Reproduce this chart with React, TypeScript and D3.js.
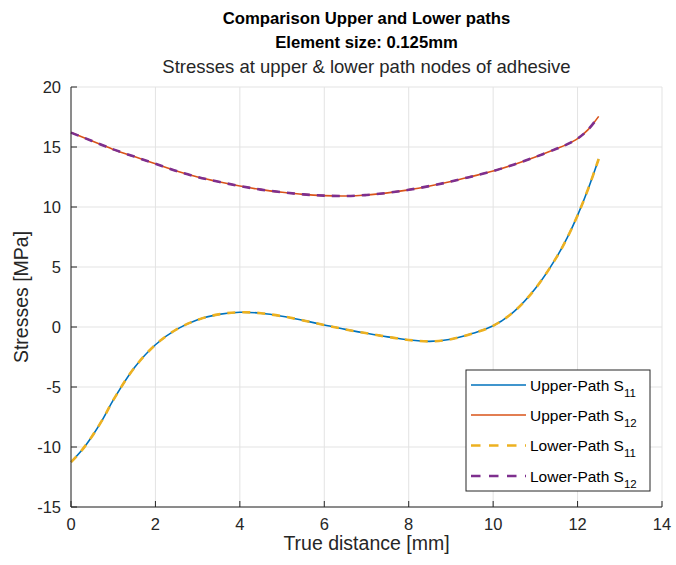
import React from "react";
import * as d3 from "d3";

const distance = [0, 0.25, 0.5, 0.75, 1, 1.5, 2, 2.5, 3, 3.5, 4, 4.5, 5, 5.5, 6, 6.5, 7, 7.5, 8, 8.5, 9, 9.5, 10, 10.5, 11, 11.5, 11.75, 12, 12.25, 12.5];
const upperS11 = [-11.26, -10.3, -9.1, -7.7, -6.1, -3.4, -1.48, -0.2, 0.6, 1.05, 1.23, 1.15, 0.9, 0.55, 0.17, -0.2, -0.52, -0.82, -1.08, -1.2, -1.02, -0.55, 0.1, 1.3, 3.2, 5.8, 7.4, 9.3, 11.5, 14.0];
const upperS12 = [16.2, 15.85, 15.5, 15.15, 14.8, 14.2, 13.6, 13.0, 12.5, 12.1, 11.75, 11.45, 11.23, 11.05, 10.95, 10.92, 11.0, 11.18, 11.43, 11.75, 12.12, 12.55, 13.0, 13.55, 14.17, 14.85, 15.22, 15.7, 16.45, 17.55];
const lowerS11 = [-11.26, -10.3, -9.1, -7.7, -6.1, -3.4, -1.48, -0.2, 0.6, 1.05, 1.23, 1.15, 0.9, 0.55, 0.17, -0.2, -0.52, -0.82, -1.08, -1.2, -1.02, -0.55, 0.1, 1.3, 3.2, 5.8, 7.4, 9.3, 11.5, 14.0];
const lowerS12 = [16.2, 15.85, 15.5, 15.15, 14.8, 14.2, 13.6, 13.0, 12.5, 12.1, 11.75, 11.45, 11.23, 11.05, 10.95, 10.92, 11.0, 11.18, 11.43, 11.75, 12.12, 12.55, 13.0, 13.55, 14.17, 14.85, 15.22, 15.7, 16.45, 17.55];

const xTicks = [0, 2, 4, 6, 8, 10, 12, 14];
const yTicks = [-15, -10, -5, 0, 5, 10, 15, 20];

const seriesNames = ["Upper-Path S", "Upper-Path S", "Lower-Path S", "Lower-Path S"];
const seriesSubs = ["11", "12", "11", "12"];
const seriesColors = ["#0072BD", "#D95319", "#EDB120", "#7E2F8E"];
const seriesDashed = [false, false, true, true];

const titleLines = ["Comparison Upper and Lower paths", "Element size: 0.125mm"];
const subtitle = "Stresses at upper & lower path nodes of adhesive";
const xLabel = "True distance [mm]";
const yLabel = "Stresses [MPa]";

export default function App() {
  const W = 676, H = 565;
  const left = 71, right = 662, top = 87, bottom = 507;
  const x = d3.scaleLinear().domain([0, 14]).range([left, right]);
  const y = d3.scaleLinear().domain([-15, 20]).range([bottom, top]);
  const series = [upperS11, upperS12, lowerS11, lowerS12];
  const line = d3
    .line<number>()
    .x((_, i) => x(distance[i]))
    .y((d) => y(d))
    .curve(d3.curveCatmullRom.alpha(0.5));
  const font = "'Liberation Sans', Arial, Helvetica, sans-serif";
  const axisColor = "#262626";
  const gridColor = "#e3e3e3";
  const legX0 = 466, legY0 = 370, legW = 184, legH = 121;
  const rowY = [385, 415, 445.5, 476];

  return (
    <div style={{ position: "fixed", left: 0, top: 0, width: W, height: H, overflow: "hidden" }}>
      <svg width={W} height={H} style={{ display: "block", background: "#fff" }} fontFamily={font}>
        <rect x={0} y={0} width={W} height={H} fill="#fff" />
        {xTicks.map((t) => (
          <line key={"gx" + t} x1={x(t)} x2={x(t)} y1={top} y2={bottom} stroke={gridColor} strokeWidth={1} />
        ))}
        {yTicks.map((t) => (
          <line key={"gy" + t} x1={left} x2={right} y1={y(t)} y2={y(t)} stroke={gridColor} strokeWidth={1} />
        ))}
        {series.map((s, i) => (
          <path
            key={"s" + i}
            d={line(s) || ""}
            fill="none"
            stroke={seriesColors[i]}
            strokeWidth={seriesDashed[i] ? 2.6 : 1.6}
            strokeDasharray={seriesDashed[i] ? "8,7" : undefined}
          />
        ))}
        <line x1={left} x2={left} y1={top} y2={bottom} stroke={axisColor} strokeWidth={1} />
        <line x1={left} x2={right} y1={bottom} y2={bottom} stroke={axisColor} strokeWidth={1} />
        {xTicks.map((t) => (
          <g key={"xt" + t}>
            <line x1={x(t)} x2={x(t)} y1={bottom} y2={bottom - 6} stroke={axisColor} strokeWidth={1} />
            <text x={x(t)} y={530} fontSize={16.5} textAnchor="middle" fill={axisColor}>
              {t}
            </text>
          </g>
        ))}
        {yTicks.map((t) => (
          <g key={"yt" + t}>
            <line x1={left} x2={left + 6} y1={y(t)} y2={y(t)} stroke={axisColor} strokeWidth={1} />
            <text x={61} y={y(t) + 6} fontSize={16.5} textAnchor="end" fill={axisColor}>
              {t}
            </text>
          </g>
        ))}
        <text x={(left + right) / 2} y={550} fontSize={19.5} textAnchor="middle" fill={axisColor}>
          {xLabel}
        </text>
        <text
          transform={`translate(28,${(top + bottom) / 2}) rotate(-90)`}
          fontSize={19.5}
          textAnchor="middle"
          fill={axisColor}
        >
          {yLabel}
        </text>
        <text x={(left + right) / 2} y={24} fontSize={16.7} fontWeight="bold" textAnchor="middle" fill="#000">
          {titleLines[0]}
        </text>
        <text x={(left + right) / 2} y={48} fontSize={16.7} fontWeight="bold" textAnchor="middle" fill="#000">
          {titleLines[1]}
        </text>
        <text x={(left + right) / 2} y={73} fontSize={18.5} textAnchor="middle" fill={axisColor}>
          {subtitle}
        </text>
        <rect x={legX0} y={legY0} width={legW} height={legH} fill="#fff" stroke={axisColor} strokeWidth={1} />
        {seriesNames.map((n, i) => (
          <g key={"lg" + i}>
            <line
              x1={471}
              x2={526}
              y1={rowY[i]}
              y2={rowY[i]}
              stroke={seriesColors[i]}
              strokeWidth={seriesDashed[i] ? 2.6 : 1.6}
              strokeDasharray={seriesDashed[i] ? "9.5,8.5" : undefined}
            />
            <text x={530} y={rowY[i] + 5.5} fontSize={15.5} fill="#000">
              {n}
              <tspan fontSize={11.5} dy={6}>
                {seriesSubs[i]}
              </tspan>
            </text>
          </g>
        ))}
      </svg>
    </div>
  );
}
